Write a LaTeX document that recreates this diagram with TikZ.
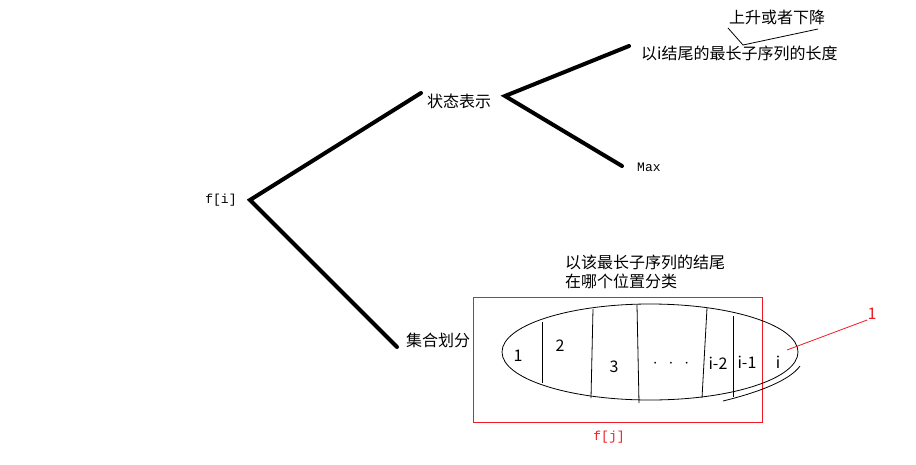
\documentclass[tikz,border=0pt]{standalone}
\usepackage{fontspec}
\setmainfont{Noto Sans CJK SC}
\newfontfamily\monofont{Liberation Mono}
\usepackage{xcolor}
\usetikzlibrary{positioning}
\definecolor{paintred}{RGB}{237,28,36}

\begin{document}
\begin{tikzpicture}[x=1pt,y=-1pt,
  font=\fontsize{16}{19}\selectfont,
  every node/.style={inner sep=0pt},
  branch/.style={line width=4pt, line cap=round},
  thinline/.style={line width=0.8pt},
  mono/.style={font=\fontsize{13}{15}\selectfont\monofont}]
\useasboundingbox (0,0) rectangle (916,464);
% tree
\node[mono] (fi) at (221,200) {f[i]};
\coordinate (root) at (250,200);
\node[anchor=west] (state) at (427,101) {状态表示};
\coordinate (stateend) at (421,93);
\coordinate (fork) at (505,96);
\node[anchor=west] (set) at (406,340) {集合划分};
\coordinate (setend) at (397,347);
\draw[branch] (stateend) -- (root) -- (setend);
\coordinate (upend) at (629,46);
\coordinate (downend) at (622,166);
\draw[branch] (upend) -- (fork) -- (downend);
\node[anchor=west] (meaning) at (641,53) {以i结尾的最长子序列的长度};
\node[mono, anchor=west] (max) at (637,167) {Max};
\node (updown) at (777,17) {上升或者下降};
\coordinate (tick) at (743,45);
\draw[thinline] (728,28) -- (tick) -- (818,29);
% set partition
\node[anchor=west, align=left] (why) at (565,272) {以该最长子序列的结尾\\在哪个位置分类};
\draw[paintred, thinline] (473,297) rectangle (762,422);
\node[mono, text=paintred] (fj) at (609,437) {f[j]};
\draw[thinline] (650,352) ellipse [x radius=148, y radius=48];
\draw[thinline] (723,401) .. controls (760,392) and (790,380) .. (800,366);
\draw[thinline] (542,322) -- (542,383);
\draw[thinline] (593,309) -- (591,398);
\draw[thinline] (637,305) -- (639,403);
\draw[thinline] (707,308) -- (702,398);
\draw[thinline] (733,316) -- (733,397);
\node (p1) at (518,356) {1};
\node (p2) at (560,346) {2};
\node (p3) at (614,367) {3};
\node (pdots) at (671,364) {$\cdot\ \ \cdot\ \ \cdot$};
\node (p4) at (718,363) {i-2};
\node (p5) at (747,362) {i-1};
\node (p6) at (778,362) {i};
\node[text=paintred] (one) at (872,314) {1};
\draw[paintred, thinline] (787,350) -- (one.south west);
\end{tikzpicture}
\end{document}
